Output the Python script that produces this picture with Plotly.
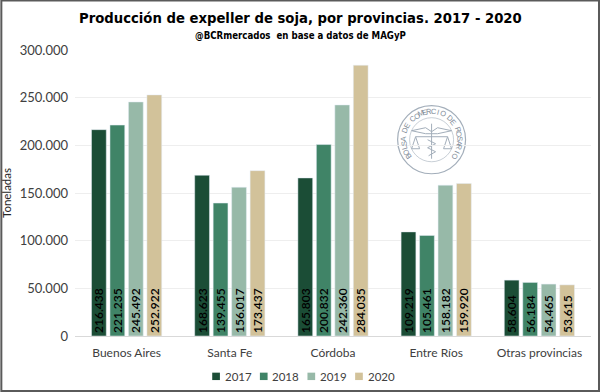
import math
import plotly.graph_objects as go

categories = ["Buenos Aires", "Santa Fe", "Córdoba", "Entre Ríos", "Otras provincias"]
y2017 = [216438, 168623, 165803, 109219, 58604]
y2018 = [221235, 139455, 200832, 105461, 56184]
y2019 = [245492, 156017, 242360, 158182, 54465]
y2020 = [252922, 173437, 284035, 159920, 53615]
years = ["2017", "2018", "2019", "2020"]
colors = ["#1B4D36", "#408467", "#97B9A8", "#D2C29A"]
ticks = [0, 50000, 100000, 150000, 200000, 250000, 300000]
seal_text = "BOLSA DE COMERCIO DE ROSARIO"

W, H = 600, 392
L, R, T, B = 74.7, 591, 50.4, 336
FONT = "Lato"
TITLE_FONT = "DejaVu Sans Condensed, Roboto, Liberation Sans"

def px(x):
    return (x - L) / (R - L)
def py(y):
    return (B - y) / (B - T)

fig = go.Figure()
for name, vals, col in zip(years, [y2017, y2018, y2019, y2020], colors):
    fig.add_trace(go.Bar(
        name=name, x=categories, y=vals, marker=dict(color=col),
        texttemplate="%{y:,.0f}", textposition="inside", textangle=-90,
        insidetextanchor="start", constraintext="none",
        textfont=dict(family=FONT, size=12, color="#000000", weight=600),
        cliponaxis=False, showlegend=False,
    ))

shapes = [dict(type="rect", xref="paper", yref="paper", x0=px(1), x1=px(W - 1), y0=py(H - 1), y1=py(1),
               line=dict(color="#5A5A5A", width=2), layer="above")]
annots = [
    dict(text="<b>Producción de expeller de soja, por provincias. 2017 - 2020</b>", xref="paper", yref="paper",
         x=px(300), y=py(18), showarrow=False, xanchor="center", yanchor="middle",
         font=dict(family=TITLE_FONT, size=14.7, color="#000000")),
    dict(text="<b>@BCRmercados  en base a datos de MAGyP</b>", xref="paper", yref="paper",
         x=px(300), y=py(36), showarrow=False, xanchor="center", yanchor="middle",
         font=dict(family=TITLE_FONT, size=9.6, color="#000000")),
]

# Legend keys
swatch_x = [212, 259.7, 307.3, 355]
for year, col, sx in zip(years, colors, swatch_x):
    shapes.append(dict(type="rect", xref="paper", yref="paper", x0=px(sx), x1=px(sx + 7.7), y0=py(380), y1=py(372.6),
                       fillcolor=col, line=dict(width=0)))
    annots.append(dict(text=year, xref="paper", yref="paper", x=px(sx + 11.5), y=py(376), showarrow=False,
                       xanchor="left", yanchor="middle", xshift=-1, font=dict(family=FONT, size=11.5, color="#404040")))

# Seal watermark
cx, cy, r = 431.5, 140, 34
seal = "#A3AEBA"
for rad, w in [(r, 1.2), (r - 12, 0.6)]:
    shapes.append(dict(type="circle", xref="paper", yref="paper", x0=px(cx - rad), x1=px(cx + rad),
                       y0=py(cy + rad), y1=py(cy - rad), line=dict(color=seal, width=w), layer="below"))
n = len(seal_text)
for i, ch in enumerate(seal_text):
    ang = -125 + 250 * i / (n - 1)
    a = math.radians(ang)
    annots.append(dict(text=ch, xref="paper", yref="paper", x=px(cx + 28 * math.sin(a)), y=py(cy - 28 * math.cos(a)),
                       showarrow=False, textangle=ang, xanchor="center", yanchor="middle",
                       font=dict(family="Liberation Sans", size=7.5, color="#7F8C99")))
def path(points):
    return "M " + " L ".join(f"{px(x)} {py(y)}" for x, y in points)
emblem = [
    [(cx - 20, cy - 9), (cx - 6, cy - 12), (cx, cy - 8), (cx + 6, cy - 12), (cx + 20, cy - 9), (cx + 6, cy - 6), (cx, cy - 6), (cx - 6, cy - 6), (cx - 20, cy - 9)],
    [(cx, cy - 16), (cx, cy + 19)],
    [(cx - 16, cy - 3), (cx + 16, cy - 3)],
    [(cx - 16, cy - 3), (cx - 20, cy + 9), (cx - 12, cy + 9), (cx - 16, cy - 3)],
    [(cx + 16, cy - 3), (cx + 20, cy + 9), (cx + 12, cy + 9), (cx + 16, cy - 3)],
    [(cx - 4, cy), (cx + 4, cy + 4), (cx - 4, cy + 8), (cx + 4, cy + 12), (cx - 3, cy + 16)],
]
for pts in emblem:
    shapes.append(dict(type="path", xref="paper", yref="paper", path=path(pts), line=dict(color=seal, width=1), layer="below"))

fig.update_layout(
    width=W, height=H, autosize=False,
    margin=dict(l=L, r=W - R, t=T, b=H - B, pad=0),
    paper_bgcolor="white", plot_bgcolor="white",
    separators=",.", barmode="group", bargap=0.284, bargroupgap=0.2,
    font=dict(family=FONT, color="#404040", size=13),
    showlegend=False,
    xaxis=dict(showgrid=False, showline=True, linecolor="#D9D9D9", linewidth=1, ticks="", automargin=False,
               tickfont=dict(family=FONT, size=12, color="#404040"), ticklabelstandoff=6),
    yaxis=dict(range=[0, 300000], tickvals=ticks, tickformat=",.0f", gridcolor="#EEEEEE", gridwidth=1,
               zeroline=False, showline=False, ticks="", ticklabelstandoff=6, automargin=False,
               tickfont=dict(family=FONT, size=13, color="#404040"),
               title=dict(text="Toneladas", font=dict(family=FONT, size=11.5, color="#262626"))),
    shapes=shapes, annotations=annots,
)
fig.write_html("out.html", config=dict(displayModeBar=False),
               post_script="document.body.style.margin='0';document.documentElement.style.overflow='hidden';")
